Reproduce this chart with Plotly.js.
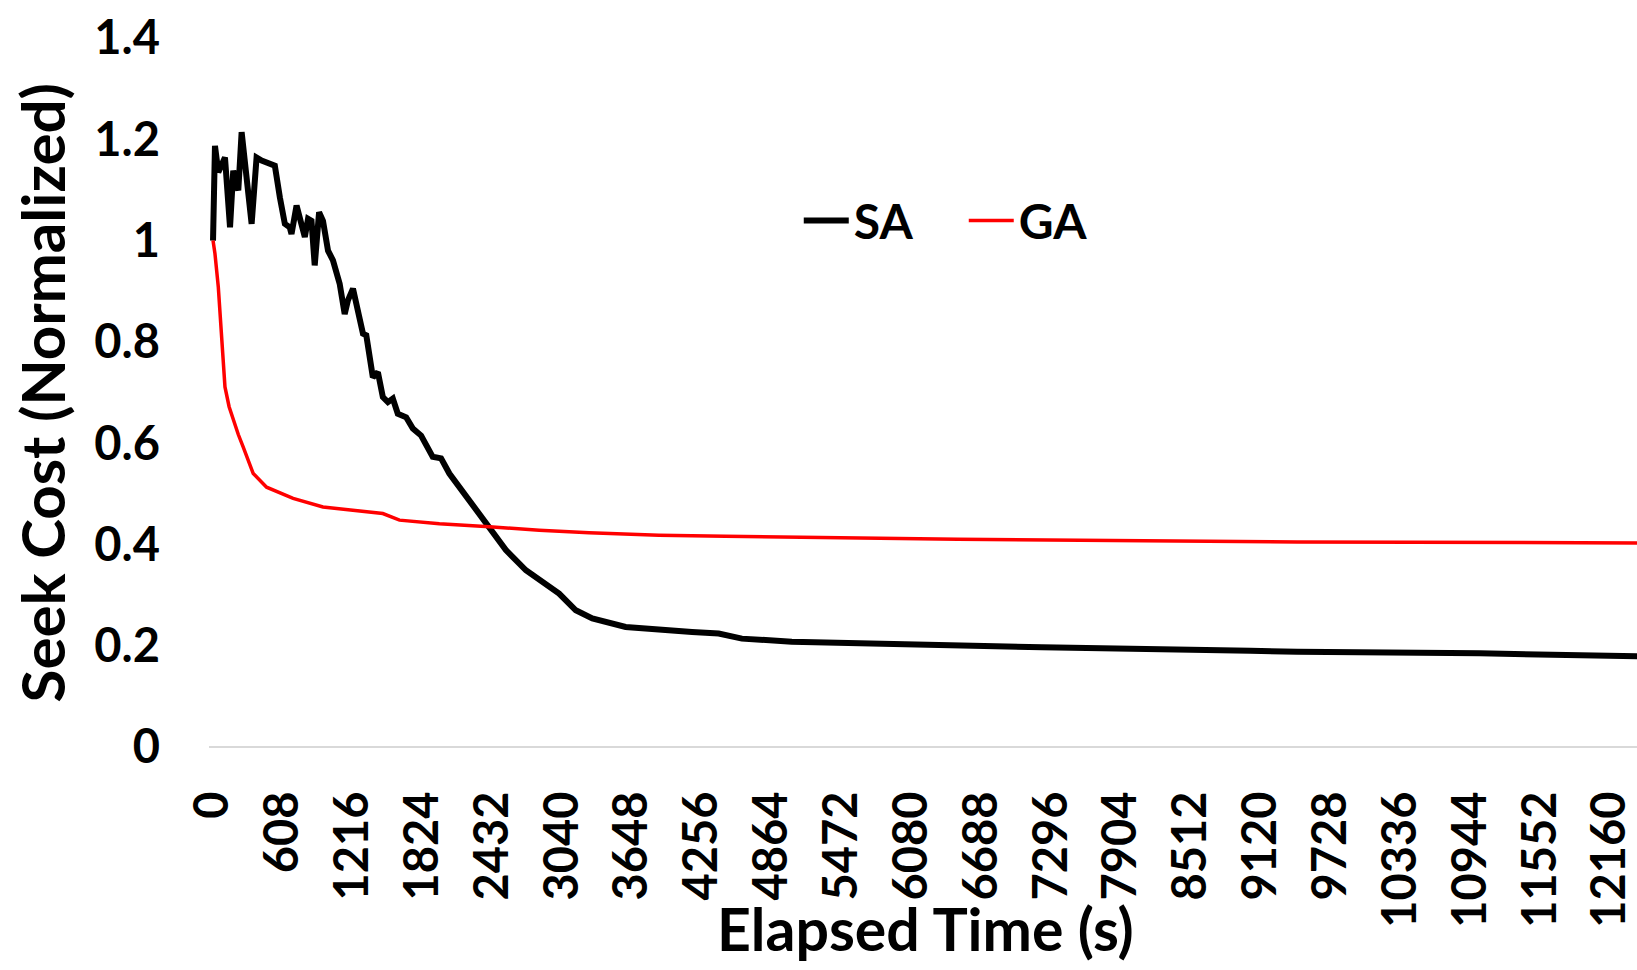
<!DOCTYPE html>
<html>
<head>
<meta charset="utf-8">
<script src="https://cdn.plot.ly/plotly-3.0.1.min.js"></script>
<style>
html,body{margin:0;padding:0;background:#fff;}
#chart{width:1637px;height:970px;}
</style>
</head>
<body>
<div id="chart"></div>
<script>
// Elapsed time (s) and normalized seek cost
var saTime = [0,17,46,104,148,176,220,249,336,379,423,466,538,582,625,668,683,727,770,799,827,857,885,923,957,1001,1044,1074,1102,1146,1174,1218,1261,1305,1334,1363,1391,1435,1478,1522,1565,1608,1681,1739,1811,1912,1985,2057,2144,2231,2289,2405,2549,2723,2897,3012,3157,3301,3591,3880,4169,4401,4603,5037,5616,6195,6484,7214,9028,9436,11024,12400];
var saCost = [1.0,1.187,1.135,1.164,1.026,1.138,1.099,1.214,1.033,1.164,1.158,1.154,1.148,1.085,1.033,1.026,1.013,1.069,1.026,1.007,1.043,1.039,0.951,1.056,1.039,0.980,0.961,0.934,0.915,0.855,0.882,0.905,0.855,0.816,0.813,0.777,0.730,0.740,0.691,0.681,0.688,0.658,0.651,0.629,0.615,0.573,0.570,0.540,0.513,0.487,0.467,0.435,0.389,0.349,0.323,0.303,0.270,0.254,0.237,0.231,0.227,0.224,0.214,0.208,0.205,0.201,0.199,0.197,0.190,0.188,0.185,0.179];

var gaTime = [0,17,46,76,104,140,176,220,263,350,466,697,957,1218,1478,1623,1970,2405,2839,3273,3880,4459,5327,6484,9436,12400];
var gaCost = [1.0,0.974,0.908,0.809,0.711,0.672,0.645,0.617,0.592,0.540,0.513,0.491,0.474,0.467,0.461,0.448,0.441,0.435,0.428,0.423,0.418,0.416,0.414,0.410,0.405,0.403];

var xTickVals = [0,608,1216,1824,2432,3040,3648,4256,4864,5472,6080,6688,7296,7904,8512,9120,9728,10336,10944,11552,12160];
var xTickText = xTickVals.map(String);
var yTickVals = [0,0.2,0.4,0.6,0.8,1,1.2,1.4];
var yTickText = ["0","0.2","0.4","0.6","0.8","1","1.2","1.4"];

var seriesNames = ["SA","GA"];
var xTitle = "Elapsed Time (s)";
var yTitle = "Seek Cost (Normalized)";

var FONT = "Lato, 'Open Sans', sans-serif";

var traces = [
  {x: saTime, y: saCost, name: seriesNames[0], mode: "lines", type: "scatter",
   line: {color: "#000000", width: 6}, cliponaxis: true},
  {x: gaTime, y: gaCost, name: seriesNames[1], mode: "lines", type: "scatter",
   line: {color: "#ff0000", width: 3.5}, cliponaxis: true}
];

var layout = {
  width: 1637, height: 970,
  margin: {l: 209, r: 0, t: 38, b: 223},
  paper_bgcolor: "#ffffff", plot_bgcolor: "#ffffff",
  font: {family: FONT, size: 47, color: "#000000", weight: "bold"},
  showlegend: true,
  legend: {
    orientation: "h", x: 0.413, xanchor: "left", y: 0.742, yanchor: "middle",
    font: {family: FONT, size: 48, color: "#000000", weight: "bold"},
    itemwidth: 45, entrywidth: 105, entrywidthmode: "pixels",
    bgcolor: "rgba(0,0,0,0)", borderwidth: 0
  },
  xaxis: {
    type: "linear", range: [-35, 12393],
    tickmode: "array", tickvals: xTickVals, ticktext: xTickText,
    tickangle: -90, ticks: "", ticklabelstandoff: 34,
    tickfont: {family: FONT, size: 47, color: "#000000", weight: "bold"},
    showgrid: false, zeroline: false, showline: false, automargin: false
  },
  yaxis: {
    type: "linear", range: [0, 1.4],
    tickmode: "array", tickvals: yTickVals, ticktext: yTickText,
    ticks: "", ticklabelstandoff: 48,
    tickfont: {family: FONT, size: 47, color: "#000000", weight: "bold"},
    showgrid: false, zeroline: true, zerolinecolor: "#d9d9d9", zerolinewidth: 2,
    showline: false, automargin: false
  },
  annotations: [
    {text: xTitle, xref: "paper", yref: "paper", x: 0.502, y: -0.256,
     xanchor: "center", yanchor: "middle", showarrow: false,
     font: {family: FONT, size: 59, color: "#000000", weight: "bold"}},
    {text: yTitle, xref: "paper", yref: "paper", x: -0.117, y: 0.5,
     xanchor: "center", yanchor: "middle", showarrow: false, textangle: -90,
     font: {family: FONT, size: 60, color: "#000000", weight: "bold"}}
  ]
};

Plotly.newPlot("chart", traces, layout, {displayModeBar: false, staticPlot: true});
</script>
</body>
</html>
